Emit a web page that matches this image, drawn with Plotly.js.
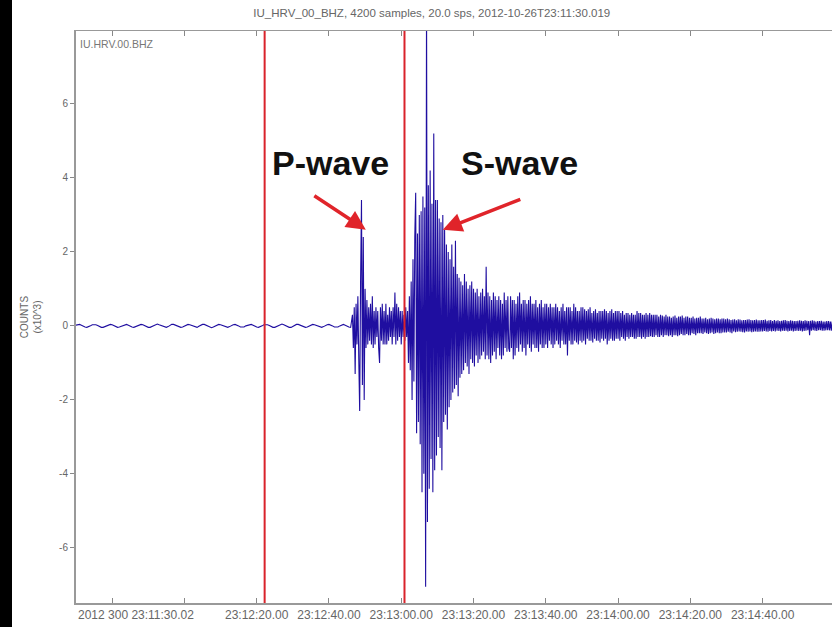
<!DOCTYPE html>
<html>
<head>
<meta charset="utf-8">
<script src="https://cdn.plot.ly/plotly-3.0.1.min.js"></script>
<style>
  html, body { margin: 0; padding: 0; background: #ffffff; overflow: hidden; }
  #wrap { position: relative; width: 832px; height: 627px; }
  #chart { width: 832px; height: 627px; }
  #bezel { position: absolute; left: 0; top: 0; width: 12px; height: 627px; background: #000; }
</style>
</head>
<body>
<div id="wrap">
  <div id="chart"></div>
  <div id="bezel"></div>
</div>
<script>
// ---- Data ----
const stationName = "IU.HRV.00.BHZ";
const chartTitle = "IU_HRV_00_BHZ, 4200 samples, 20.0 sps, 2012-10-26T23:11:30.019";
const startMs = Date.UTC(2012, 9, 26, 23, 11, 30, 19);   // 23:11:30.019

// Pre-event noise, counts (x10^3): one value per 0.5 s from 0 s to 76 s
const quietStartSec = 0;
const quietStepSec = 0.5;
const quietCounts = [
  0.02,0.04,0.04,0.02,-0.01,-0.03,-0.04,-0.03,0.00,0.03,0.04,0.03,0.01,-0.02,-0.04,-0.04,-0.02,0.01,0.03,0.04,
  0.03,0.00,-0.03,-0.04,-0.03,-0.01,0.02,0.04,0.04,0.02,-0.01,-0.03,-0.04,-0.02,0.01,0.03,0.04,0.03,0.00,-0.02,
  -0.04,-0.04,-0.02,0.01,0.03,0.05,0.03,0.01,-0.02,-0.04,-0.04,-0.02,0.01,0.04,0.04,0.02,-0.01,-0.03,-0.04,-0.03,
  0.00,0.03,0.04,0.03,0.01,-0.02,-0.04,-0.04,-0.01,0.02,0.04,0.04,0.02,-0.01,-0.03,-0.05,-0.03,0.00,0.03,0.04,
  0.03,0.01,-0.02,-0.04,-0.04,-0.02,0.01,0.03,0.04,0.03,0.00,-0.03,-0.04,-0.03,0.00,0.02,0.04,0.04,0.02,-0.01,
  -0.03,-0.04,-0.03,0.00,0.03,0.04,0.03,0.01,-0.02,-0.04,-0.04,-0.02,0.01,0.03,0.05,0.03,0.00,-0.02,-0.04,-0.04,
  -0.01,0.02,0.04,0.04,0.02,-0.01,-0.03,-0.04,-0.03,0.00,0.03,0.04,0.03,0.01,-0.02,-0.04,-0.04,-0.02,0.01,0.03,
  0.04,0.03,0.00,-0.03,-0.04,-0.03,0.00,0.03,0.04,0.02,-0.01,-0.03,-0.04
];

// Event record, counts (x10^3): one value per 0.25 s from 76.5 s
const eventStartSec = 76.5;
const eventStepSec = 0.25;
const eventCounts = [
  0.3,-0.6,0.5,-1.3,0.6,-0.5,0.8,-0.9,-2.3,1.2,3.4,-1.6,2.4,-2.0,
  1.0,-0.6,0.7,-0.5,0.5,-0.4,0.6,-0.5,0.8,-0.6,0.4,-0.5,0.5,-0.3,0.4,-0.6,-1.0,0.5,-0.4,0.6,
  -0.5,0.4,-0.5,0.6,-0.5,0.3,-0.4,0.5,-0.3,0.4,-0.5,0.5,-0.3,0.9,-0.5,0.6,-0.4,0.5,-0.3,0.4,
  -0.5,0.4,-0.3,0.3,-0.4,0.5,-0.3,0.4,-1.0,0.8,-1.2,1.2,-2.0,1.8,-1.5,2.4,3.6,-2.9,2.5,-2.6,
  3.0,-3.2,3.1,-4.5,3.5,-4.0,3.2,-7.05,9.0,-5.3,3.8,-4.4,4.2,-3.6,3.3,-4.5,5.2,-3.9,3.4,-3.5,
  3.4,-3.0,2.9,-3.3,2.8,-3.9,3.0,-2.6,2.6,-2.4,2.2,-2.8,2.0,-2.2,1.8,-2.0,2.2,-1.8,1.6,-1.7,
  2.3,-1.6,1.4,-1.9,1.3,-1.4,1.2,-1.3,1.1,-1.2,1.4,-1.0,1.2,-1.1,1.0,-1.3,1.1,-0.9,1.2,-1.0,
  1.0,-1.1,0.9,-0.8,1.0,-1.0,0.8,-0.9,0.9,-0.8,1.0,-0.7,0.8,-0.9,1.6,-0.8,0.9,-0.9,0.8,-1.0,
  0.7,-0.8,0.9,-0.7,0.8,-0.9,0.7,-0.6,0.8,-0.8,0.7,-0.9,0.6,-0.8,0.9,-0.6,0.7,-0.7,0.8,-0.6,
  -0.7,0.8,-0.6,0.7,-0.9,0.7,-0.8,0.6,-0.6,0.8,-0.7,0.9,-0.5,0.6,-0.7,0.7,-0.6,0.7,-0.8,0.6,
  -0.5,0.7,-0.6,0.8,-0.7,0.6,-0.5,0.6,-0.6,0.7,-0.6,0.5,-0.7,0.6,-0.5,0.7,-0.6,0.5,-0.6,0.6,
  -0.5,0.6,-0.6,0.5,-0.4,0.6,-0.5,0.5,-0.6,0.5,-0.5,0.6,-0.4,0.5,-0.5,0.4,-0.6,0.5,-0.4,0.6,
  -0.5,0.4,-0.5,0.5,-0.8,0.5,-0.4,0.5,-0.5,0.4,-0.5,0.6,-0.4,0.5,-0.45,0.4,-0.5,0.4,-0.4,0.5,
  -0.45,0.5,-0.4,0.45,-0.5,0.4,-0.35,0.45,-0.4,0.5,-0.4,0.35,-0.45,0.4,-0.35,0.45,-0.4,0.35,-0.4,0.4,
  -0.45,0.4,-0.35,0.4,-0.4,0.45,-0.35,0.4,-0.5,0.35,-0.4,0.4,-0.35,0.45,-0.4,0.35,-0.4,0.4,-0.35,0.4,
  -0.35,0.4,-0.4,0.35,-0.3,0.4,-0.35,0.3,-0.4,0.35,-0.3,0.35,-0.35,0.3,-0.3,0.35,-0.3,0.3,-0.35,0.3,
  -0.35,0.4,-0.3,0.35,-0.3,0.35,-0.35,0.3,-0.3,0.3,-0.35,0.35,-0.3,0.3,-0.3,0.35,-0.28,0.3,-0.3,0.3,
  -0.3,0.3,-0.25,0.3,-0.3,0.25,-0.3,0.3,-0.25,0.28,-0.3,0.25,-0.25,0.3,-0.25,0.25,-0.28,0.25,-0.25,0.22,
  -0.3,0.25,-0.25,0.28,-0.25,0.22,-0.28,0.25,-0.25,0.25,-0.22,0.28,-0.25,0.22,-0.25,0.25,-0.22,0.25,-0.25,0.22,
  -0.25,0.22,-0.2,0.25,-0.22,0.2,-0.25,0.22,-0.2,0.22,-0.2,0.25,-0.2,0.2,-0.22,0.2,-0.18,0.22,-0.2,0.18,
  -0.22,0.2,-0.2,0.22,-0.18,0.2,-0.22,0.18,-0.2,0.2,-0.18,0.2,-0.2,0.18,-0.2,0.2,-0.18,0.2,-0.18,0.18,
  -0.18,0.2,-0.16,0.18,-0.18,0.16,-0.2,0.17,-0.15,0.18,-0.17,0.15,-0.16,0.18,-0.15,0.17,-0.16,0.15,-0.17,0.16,
  -0.18,0.16,-0.15,0.17,-0.16,0.18,-0.15,0.16,-0.17,0.15,-0.16,0.16,-0.15,0.17,-0.16,0.15,-0.16,0.15,-0.15,0.16,
  -0.15,0.16,-0.14,0.17,-0.15,0.14,-0.16,0.15,-0.14,0.16,-0.15,0.13,-0.14,0.16,-0.15,0.14,-0.13,0.15,-0.14,0.13,
  -0.15,0.14,-0.13,0.15,-0.14,0.16,-0.13,0.14,-0.15,0.13,-0.14,0.15,-0.13,0.14,-0.15,0.13,-0.14,0.13,-0.13,0.14,
  -0.14,0.15,-0.13,0.14,-0.15,0.13,-0.14,0.15,-0.13,0.14,-0.12,0.13,-0.25,0.14,-0.13,0.15,-0.12,0.14,-0.13,0.12,
  -0.14,0.13,-0.12,0.13,-0.12,0.14,-0.13,0.12,-0.13,0.12,-0.12,0.13,-0.12,0.13,-0.12,0.12,-0.13,0.12,-0.12,0.12
];

// Pick markers (seconds after start)
const pickOffsetsSec = [52.2, 90.9];

// Phase labels and arrow tips (seconds after start, counts x10^3)
const phaseLabels = ["P-wave", "S-wave"];
const arrowTipSec = [80.2, 101.5];
const arrowTipVal = [2.6, 2.6];

// Axis ticks
const xTickSec = [10, 30, 50, 70, 90, 110, 130, 150, 170, 190];
const xTickText = ["", "", "23:12:20.00", "23:12:40.00", "23:13:00.00", "23:13:20.00",
                   "23:13:40.00", "23:14:00.00", "23:14:20.00", "23:14:40.00"];
const firstTickText = "2012 300 23:11:30.02";
const yTickVals = [-6, -4, -2, 0, 2, 4, 6];
const yTickText = ["-6", "-4", "-2", "0", "2", "4", "6"];

// ---- Build ----
const toMs = s => startMs + s * 1000;
const quietTimes = quietCounts.map((_, i) => toMs(quietStartSec + i * quietStepSec));
const eventTimes = eventCounts.map((_, i) => toMs(eventStartSec + i * eventStepSec));
const FONT = "Liberation Sans, Arial, sans-serif";

const trace = {
  type: "scatter", mode: "lines",
  x: quietTimes.concat(eventTimes), y: quietCounts.concat(eventCounts),
  line: { color: "#1f0ea0", width: 1.1 },
  hoverinfo: "skip"
};

const shapes = pickOffsetsSec.map(s => ({
  type: "line", xref: "x", yref: "paper",
  x0: toMs(s), x1: toMs(s), y0: 0, y1: 1,
  line: { color: "#d9232b", width: 2 }
}));

const labelFont = { family: FONT, size: 34, color: "#111" };
const annotations = [
  { xref: "paper", yref: "paper", x: 0.337, y: 0.769, text: "<b>" + phaseLabels[0] + "</b>",
    showarrow: false, font: labelFont, xanchor: "center", yanchor: "middle" },
  { xref: "paper", yref: "paper", x: 0.586, y: 0.769, text: "<b>" + phaseLabels[1] + "</b>",
    showarrow: false, font: labelFont, xanchor: "center", yanchor: "middle" },
  { xref: "x", yref: "y", x: toMs(arrowTipSec[0]), y: arrowTipVal[0], text: "",
    showarrow: true, ax: -53, ay: -35, arrowcolor: "#e0242a", arrowwidth: 3.5, arrowhead: 2, arrowsize: 1.1 },
  { xref: "x", yref: "y", x: toMs(arrowTipSec[1]), y: arrowTipVal[1], text: "",
    showarrow: true, ax: 79, ay: -31, arrowcolor: "#e0242a", arrowwidth: 3.5, arrowhead: 2, arrowsize: 1.1 },
  { xref: "paper", yref: "paper", x: 0.003, y: 0.992, text: stationName, showarrow: false,
    xanchor: "left", yanchor: "top", font: { family: FONT, size: 10.5, color: "#777" } },
  { xref: "paper", yref: "paper", x: 0, y: 0, yshift: -3, text: firstTickText, showarrow: false,
    xanchor: "left", yanchor: "top", font: { family: FONT, size: 12, color: "#666" } }
];

const layout = {
  width: 832, height: 627,
  margin: { l: 76, r: 0, t: 31, b: 24 },
  paper_bgcolor: "#ffffff", plot_bgcolor: "#ffffff",
  showlegend: false,
  title: { text: chartTitle, x: 0.519, xref: "container", y: 0.979, yref: "container",
           yanchor: "middle", xanchor: "center",
           font: { family: FONT, size: 11.5, color: "#666" } },
  xaxis: {
    type: "date", range: [toMs(0), toMs(209.2)],
    tickmode: "array", tickvals: xTickSec.map(toMs), ticktext: xTickText,
    ticks: "inside", ticklen: 5, tickcolor: "#888",
    showline: true, linecolor: "#999", linewidth: 1.5, mirror: "ticks",
    showgrid: false, zeroline: false,
    tickfont: { family: FONT, size: 12, color: "#666" }
  },
  yaxis: {
    range: [-7.49, 7.97],
    tickmode: "array", tickvals: yTickVals, ticktext: yTickText,
    ticks: "outside", ticklen: 4, tickcolor: "#888",
    showline: true, linecolor: "#999", linewidth: 2,
    showgrid: false, zeroline: false,
    tickfont: { family: FONT, size: 10, color: "#666" },
    title: { text: "COUNTS<br>(x10^3)", standoff: 16,
             font: { family: FONT, size: 10, color: "#666" } }
  },
  shapes: shapes,
  annotations: annotations
};

Plotly.newPlot("chart", [trace], layout, { displayModeBar: false, staticPlot: true });
</script>
</body>
</html>
